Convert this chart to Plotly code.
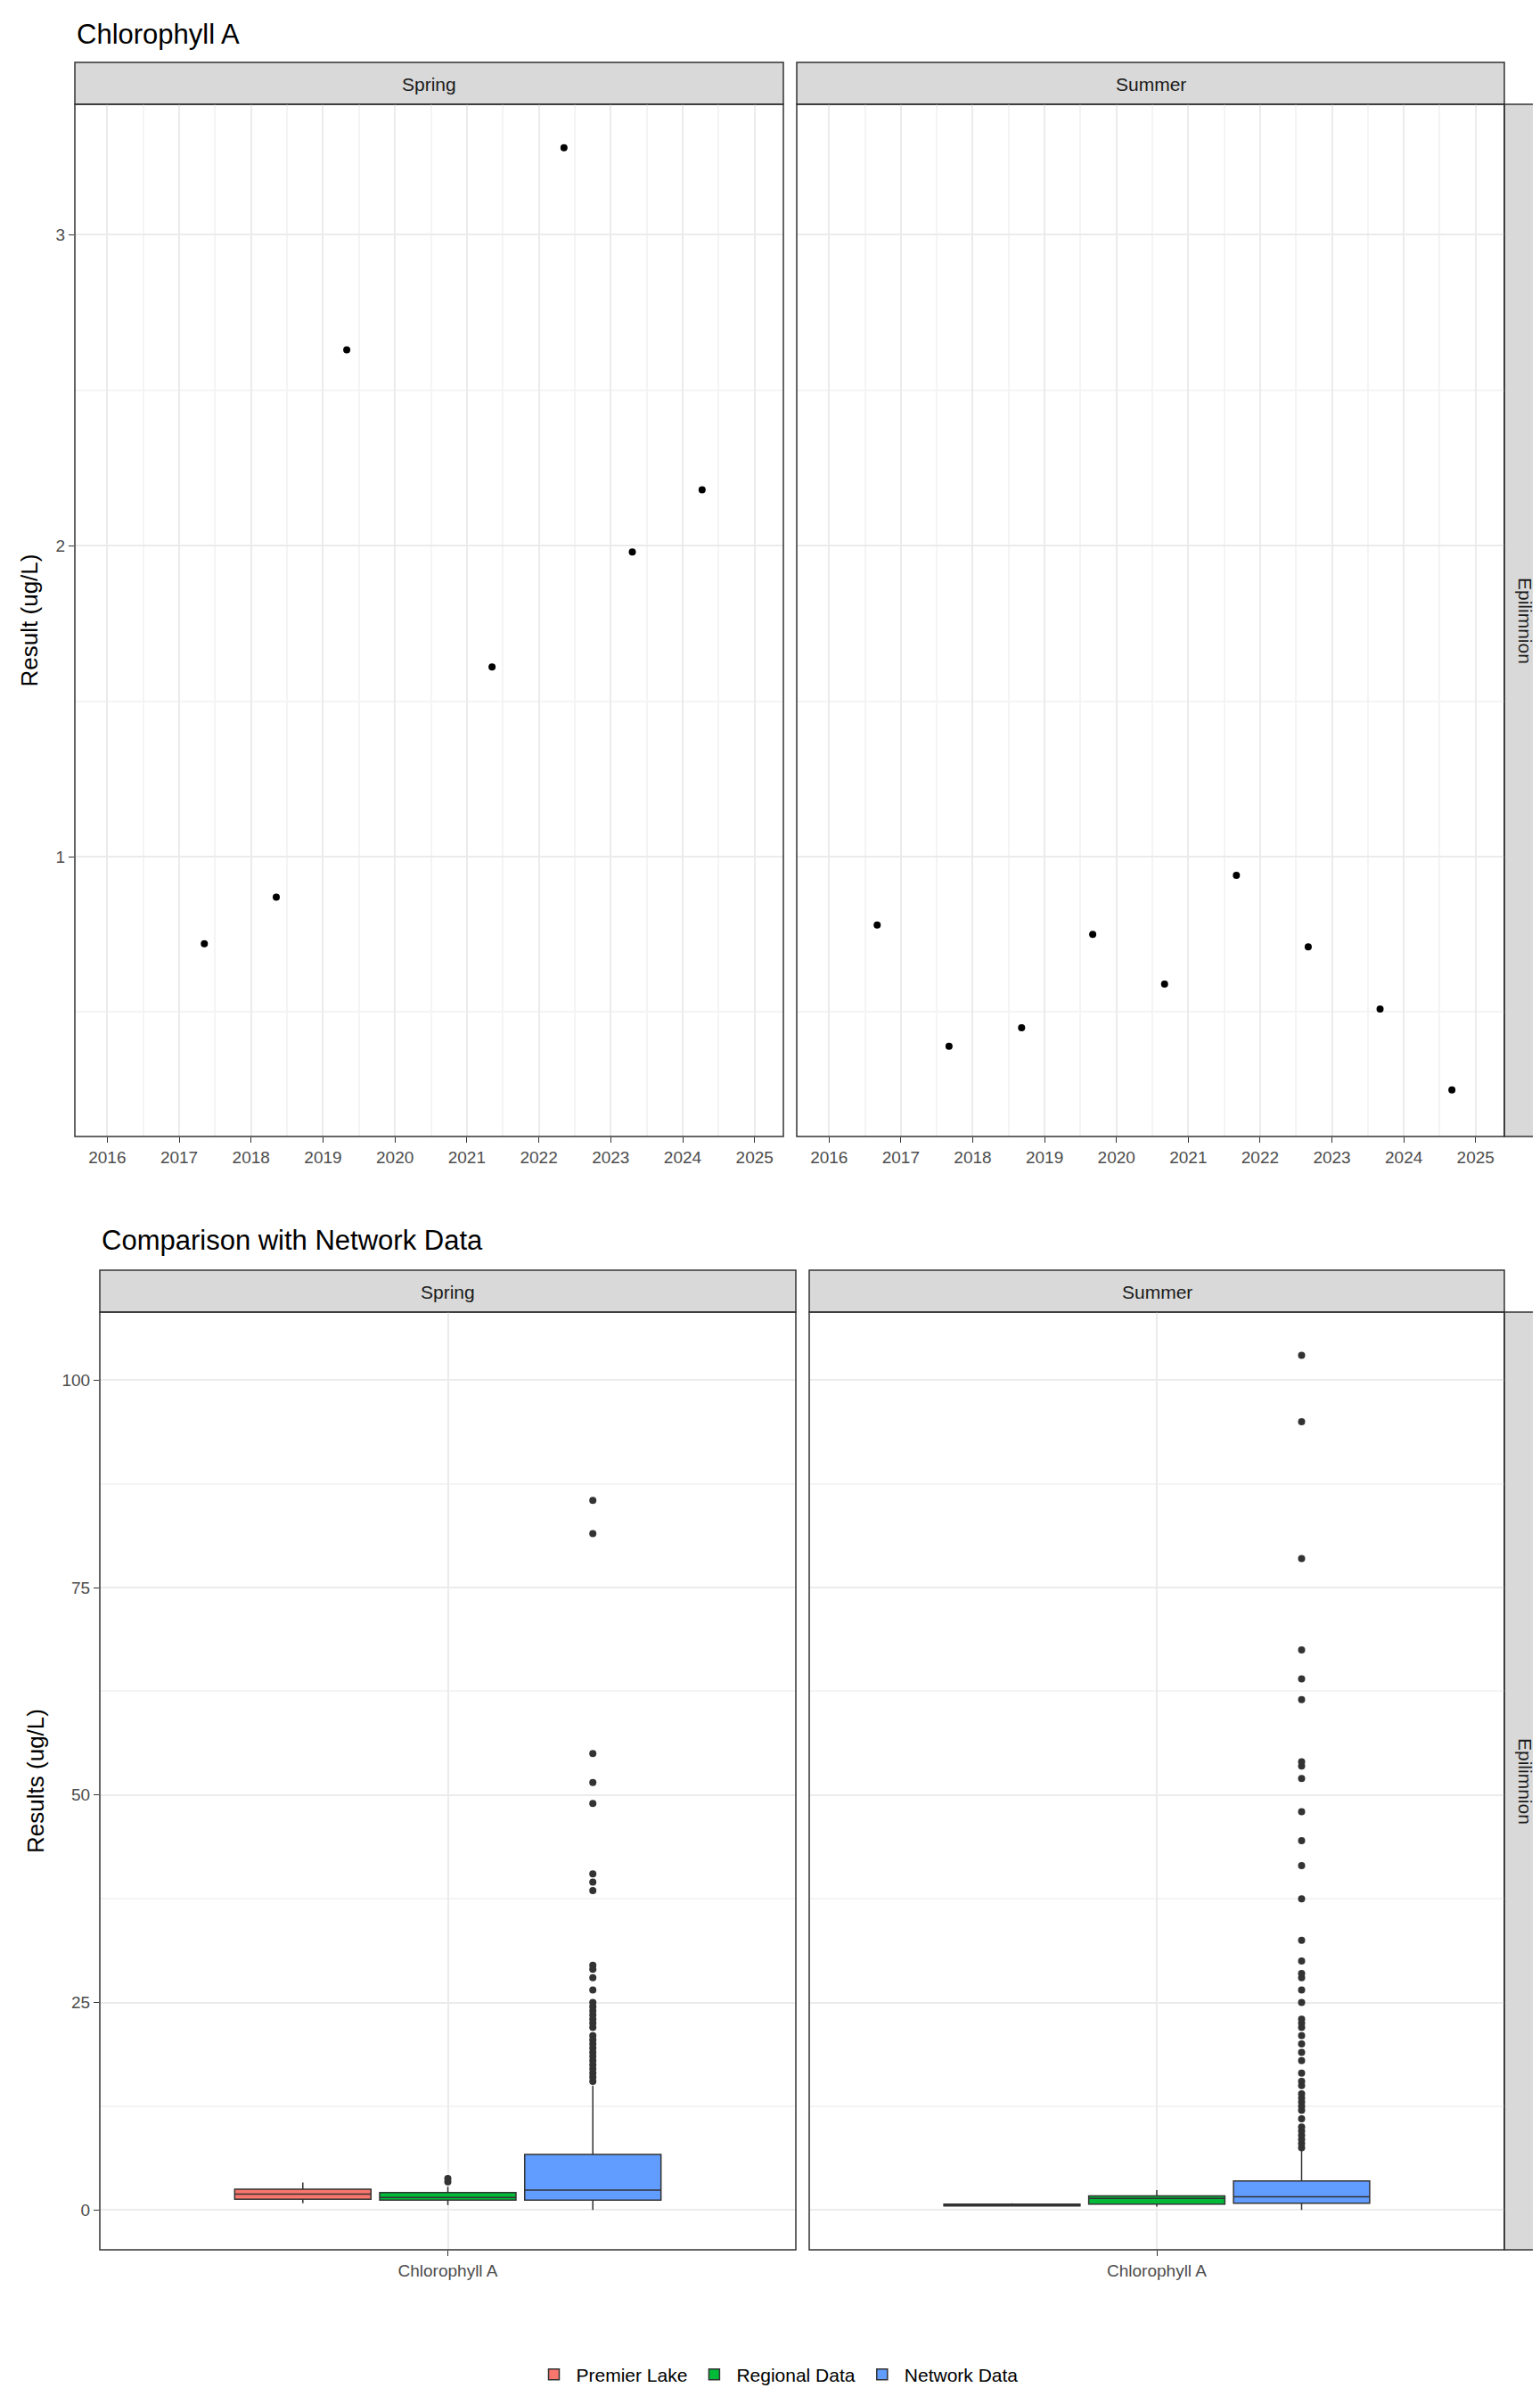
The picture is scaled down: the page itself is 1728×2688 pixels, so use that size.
import plotly.graph_objects as go

W, H = 1728, 2688

# ---- data: top panels (decimal year, ug/L)
spring_x = [2017.35, 2018.35, 2019.33, 2021.35, 2022.35, 2023.30, 2024.27]
spring_y = [0.72, 0.87, 2.63, 1.61, 3.28, 1.98, 2.18]
summer_x = [2016.67, 2017.67, 2018.68, 2019.67, 2020.67, 2021.67, 2022.67, 2023.67, 2024.67]
summer_y = [0.78, 0.39, 0.45, 0.75, 0.59, 0.94, 0.71, 0.51, 0.25]
year_ticks = list(range(2016, 2026))

# ---- data: box stats [lower, q1, median, q3, upper]
groups = ["Premier Lake", "Regional Data", "Network Data"]
colors = ["#F8766D", "#00BA38", "#619CFF"]
spring_stats = [[0.8, 1.3, 1.9, 2.5, 3.3], [0.6, 1.2, 1.5, 2.1, 2.8], [0.0, 1.2, 2.4, 6.7, 15.0]]
summer_stats = [[0.4, 0.5, 0.6, 0.7, 0.8], [0.4, 0.7, 1.4, 1.7, 2.4], [0.0, 0.8, 1.6, 3.5, 7.2]]
spring_out = {1: [3.4, 3.8],
              2: [15.5, 16, 16.5, 17, 17.5, 18, 18.5, 19, 19.5, 20, 20.5, 21, 22, 22.5, 23, 23.5, 24,
                  24.5, 25, 26.5, 28, 29, 29.5, 38.5, 39.5, 40.5, 49, 51.5, 55, 81.5, 85.5]}
summer_out = {2: [7.5, 8, 8.5, 9, 9.5, 10, 11, 12, 12.5, 13, 13.5, 14, 15, 15.5, 16.5, 18, 19, 20, 21,
                  22, 22.5, 23, 25, 26.5, 28, 28.5, 30, 32.5, 37.5, 41.5, 44.5, 48, 52, 53.5, 54,
                  61.5, 64, 67.5, 78.5, 95, 103]}
box_pos = [0.75, 1.0, 1.25]

fig = go.Figure()

def px_x(a, b):
    return [a / W, b / W]

def px_y(top, bottom):
    return [1 - bottom / H, 1 - top / H]

# top scatter
fig.add_trace(go.Scatter(x=spring_x, y=spring_y, mode="markers", marker=dict(color="black", size=8),
                         showlegend=False, xaxis="x", yaxis="y"))
fig.add_trace(go.Scatter(x=summer_x, y=summer_y, mode="markers", marker=dict(color="black", size=8),
                         showlegend=False, xaxis="x2", yaxis="y2"))

# bottom boxes
for ax, stats, outs, leg in [("3", spring_stats, spring_out, True), ("4", summer_stats, summer_out, False)]:
    for i, (g, c) in enumerate(zip(groups, colors)):
        lo, q1, md, q3, up = stats[i]
        fig.add_trace(go.Box(x=[box_pos[i]], lowerfence=[lo], q1=[q1], median=[md], q3=[q3],
                             upperfence=[up], width=0.235, fillcolor=c, name=g,
                             line=dict(color="#333333", width=1.5), whiskerwidth=0,
                             showlegend=leg, legendgroup=g, xaxis="x" + ax, yaxis="y" + ax))
        if i in outs:
            fig.add_trace(go.Scatter(x=[box_pos[i]] * len(outs[i]), y=outs[i], mode="markers",
                                     marker=dict(color="#333333", size=8), showlegend=False,
                                     xaxis="x" + ax, yaxis="y" + ax))

grid = "#EBEBEB"
tickf = dict(family="Liberation Sans, Arial", size=19, color="#4D4D4D")
ax_common = dict(showgrid=True, gridcolor=grid, gridwidth=1.5, zeroline=False, ticks="outside",
                 ticklen=6, tickcolor="#333333", tickfont=tickf, showline=False)

xtop = dict(ax_common, range=[2015.55, 2025.4], tickvals=year_ticks,
            minor=dict(dtick=0.5, tick0=2015.5, showgrid=True, gridcolor="#F4F4F4", ticklen=0))
ytop = dict(ax_common, range=[0.1, 3.42], tickvals=[1, 2, 3],
            minor=dict(dtick=0.5, tick0=0.5, showgrid=True, gridcolor="#F4F4F4", ticklen=0))
xbot = dict(ax_common, range=[0.4, 1.6], tickvals=[1], ticktext=["Chlorophyll A"])
ybot = dict(ax_common, range=[-4.8, 108.2], tickvals=[0, 25, 50, 75, 100],
            minor=dict(dtick=12.5, tick0=0, showgrid=True, gridcolor="#F4F4F4", ticklen=0))

fig.update_layout(
    width=W, height=H, margin=dict(l=0, r=0, t=0, b=0),
    paper_bgcolor="white", plot_bgcolor="white",
    font=dict(family="Liberation Sans, Arial", color="black"),
    xaxis=dict(xtop, domain=px_x(76, 871), anchor="y"),
    yaxis=dict(ytop, domain=px_y(109, 1267), anchor="x",
               title=dict(text="Result (ug/L)", font=dict(size=26), standoff=12)),
    xaxis2=dict(xtop, domain=px_x(886, 1680), anchor="y2"),
    yaxis2=dict(ytop, domain=px_y(109, 1267), anchor="x2", showticklabels=False, ticks=""),
    xaxis3=dict(xbot, domain=px_x(104, 885), anchor="y3"),
    yaxis3=dict(ybot, domain=px_y(1464, 2516), anchor="x3",
                title=dict(text="Results (ug/L)", font=dict(size=26), standoff=12)),
    xaxis4=dict(xbot, domain=px_x(900, 1680), anchor="y4"),
    yaxis4=dict(ybot, domain=px_y(1464, 2516), anchor="x4", showticklabels=False, ticks=""),
    legend=dict(orientation="h", x=0.5, xanchor="center", y=1 - 2656 / H, yanchor="middle",
                font=dict(size=21), itemwidth=40, traceorder="normal"),
)

shapes, annos = [], []
def rect(x0, y0, x1, y1, fill):
    shapes.append(dict(type="rect", xref="paper", yref="paper", x0=x0 / W, x1=x1 / W,
                       y0=1 - y1 / H, y1=1 - y0 / H, fillcolor=fill,
                       line=dict(color="#333333", width=1.5), layer="above" if fill is None else "below"))

def text(x, y, s, size=21, angle=0, anchor="center"):
    annos.append(dict(xref="paper", yref="paper", x=x / W, y=1 - y / H, text=s, showarrow=False,
                      font=dict(size=size, color="#1A1A1A"), textangle=angle, xanchor=anchor,
                      yanchor="middle"))

# top panels
for x0, x1, lab in [(76, 871, "Spring"), (886, 1680, "Summer")]:
    rect(x0, 62, x1, 109, "#D9D9D9")
    rect(x0, 109, x1, 1267, None)
    text((x0 + x1) / 2, 86, lab)
rect(1680, 109, 1727, 1267, "#D9D9D9")
text(1704, 688, "Epilimnion", angle=90)
# bottom panels
for x0, x1, lab in [(104, 885, "Spring"), (900, 1680, "Summer")]:
    rect(x0, 1417, x1, 1464, "#D9D9D9")
    rect(x0, 1464, x1, 2516, None)
    text((x0 + x1) / 2, 1441, lab)
rect(1680, 1464, 1727, 2516, "#D9D9D9")
text(1704, 1990, "Epilimnion", angle=90)

annos.append(dict(xref="paper", yref="paper", x=76 / W, y=1 - 30 / H, text="Chlorophyll A",
                  showarrow=False, xanchor="left", yanchor="middle", font=dict(size=31, color="black")))
annos.append(dict(xref="paper", yref="paper", x=104 / W, y=1 - 1384 / H, text="Comparison with Network Data",
                  showarrow=False, xanchor="left", yanchor="middle", font=dict(size=31, color="black")))

fig.update_layout(shapes=shapes, annotations=annos)

fig.write_html("out.html")
